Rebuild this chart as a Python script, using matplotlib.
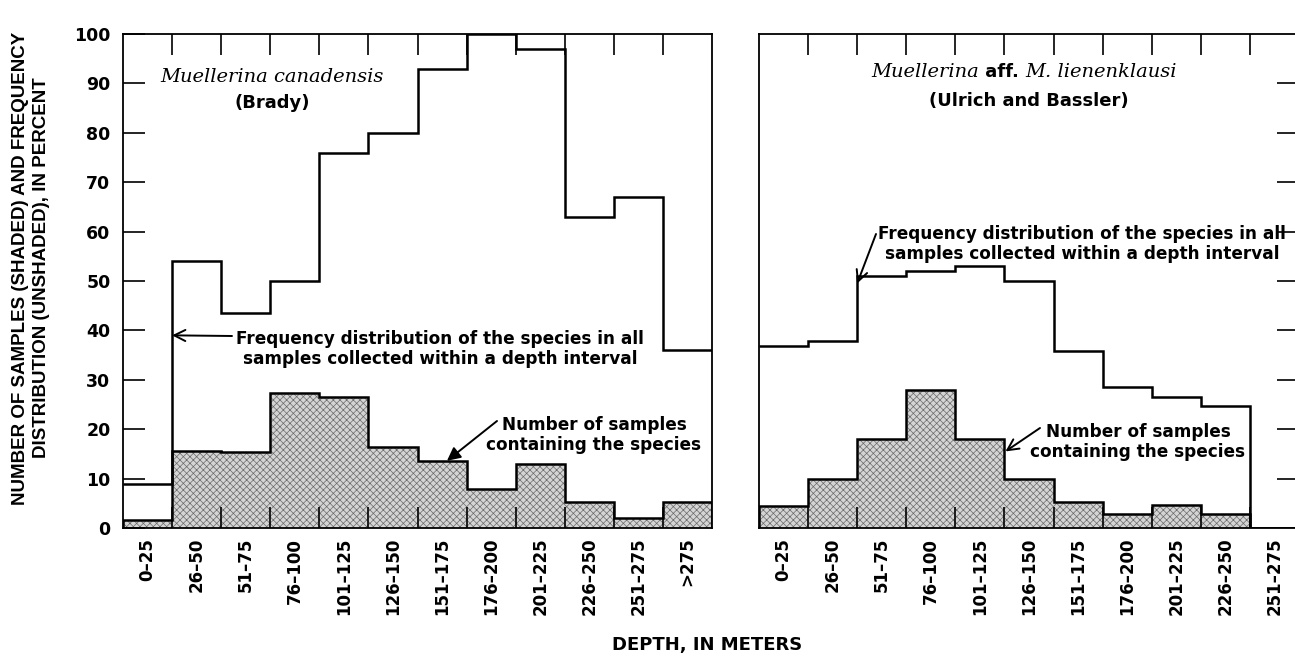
import matplotlib
matplotlib.use("Agg")
import matplotlib.pyplot as plt
import numpy as np

# ---------------- data ----------------
left_labels = ["0–25", "26–50", "51–75", "76–100", "101–125", "126–150",
               "151–175", "176–200", "201–225", "226–250", "251–275", ">275"]
left_freq = [9, 54, 43.5, 50, 76, 80, 93, 100, 97, 63, 67, 36]
left_samples = [1.7, 15.6, 15.3, 27.3, 26.5, 16.4, 13.6, 7.8, 13, 5.2, 2, 5.2]

right_labels = ["0–25", "26–50", "51–75", "76–100", "101–125", "126–150",
                "151–175", "176–200", "201–225", "226–250", "251–275"]
right_freq = [36.8, 37.8, 51, 52, 53, 50, 35.8, 28.6, 26.6, 24.6, 0]
right_samples = [4.5, 10, 18, 28, 18, 10, 5.2, 2.8, 4.7, 2.9, 0]

left_title = ("Muellerina canadensis", "(Brady)")
right_title = ("Muellerina", " aff. ", "M. lienenklausi", "(Ulrich and Bassler)")
freq_note = "Frequency distribution of the species in all\nsamples collected within a depth interval"
samp_note = "Number of samples\ncontaining the species"
ylabel = "NUMBER OF SAMPLES (SHADED) AND FREQUENCY\nDISTRIBUTION (UNSHADED), IN PERCENT"
xlabel = "DEPTH, IN METERS"

# ---------------- style ----------------
plt.rcParams['font.family'] = ['DejaVu Sans']
plt.rcParams['hatch.linewidth'] = 0.5

W, H = 1295, 661
fig = plt.figure(figsize=(W / 100, H / 100), dpi=100)

def fx(px):
    return px / W

def fy(py):
    return (H - py) / H

ax_top, ax_bot = 34, 528
axL = fig.add_axes([fx(123), fy(ax_bot), fx(712) - fx(123), fy(ax_top) - fy(ax_bot)])
axR = fig.add_axes([fx(759), fy(ax_bot), fx(1299) - fx(759), fy(ax_top) - fy(ax_bot)])

SHADE = '#d4d4d4'
LW = 1.8
tick_fs = 12

def draw_panel(ax, labels, freq, samples):
    n = len(labels)
    edges = np.arange(n + 1)
    ax.stairs(samples, edges, baseline=0, fill=True, facecolor=SHADE,
              edgecolor='#6a6a6a', linewidth=0, hatch='xxxxx', zorder=1)
    ax.stairs(samples, edges, baseline=0, fill=False, color='black',
              linewidth=LW, zorder=2)
    ax.stairs(freq, edges, baseline=None, color='black', linewidth=LW, zorder=3)
    ax.set_xlim(0, n)
    ax.set_ylim(0, 100)
    ax.set_xticks(edges[1:-1])
    ax.tick_params(axis='x', which='major', direction='in', length=15,
                   width=1.2, top=True, bottom=True, labelbottom=False,
                   labeltop=False)
    ax.set_xticks(edges[:-1] + 0.5, minor=True)
    ax.set_xticklabels(labels, minor=True, rotation=90, fontsize=tick_fs,
                       fontweight='bold')
    ax.tick_params(axis='x', which='minor', length=0, pad=7)
    for s in ax.spines.values():
        s.set_linewidth(1.3)

draw_panel(axL, left_labels, left_freq, left_samples)
draw_panel(axR, right_labels, right_freq, right_samples)

axL.set_yticks(np.arange(0, 101, 10))
axL.set_yticklabels([str(v) for v in range(0, 101, 10)], fontsize=tick_fs + 0.5,
                    fontweight='bold')
axL.tick_params(axis='y', direction='in', length=16, width=1.2, pad=9,
                left=True, right=False)

axR.set_yticks(np.arange(10, 100, 10))
axR.tick_params(axis='y', direction='in', length=16, width=1.2,
                left=False, right=True, labelleft=False, labelright=False)

# ---------------- titles ----------------
title_fs = 14
fig.text(fx(272), fy(77), left_title[0], family='DejaVu Serif',
         style='italic', fontsize=title_fs, ha='center', va='center')
fig.text(fx(272), fy(103), left_title[1], fontsize=13, fontweight='bold',
         ha='center', va='center')

renderer = fig.canvas.get_renderer()
parts = [
    fig.text(0, fy(72), right_title[0], family='DejaVu Serif', style='italic',
             fontsize=title_fs, ha='left', va='center'),
    fig.text(0, fy(72), right_title[1], fontsize=13, fontweight='bold',
             ha='left', va='center'),
    fig.text(0, fy(72), right_title[2], family='DejaVu Serif', style='italic',
             fontsize=title_fs, ha='left', va='center'),
]
widths = [p.get_window_extent(renderer).width for p in parts]
x0 = 1024 - sum(widths) / 2
for p, w in zip(parts, widths):
    p.set_x(fx(x0))
    x0 += w
fig.text(fx(1029), fy(101), right_title[3], fontsize=13, fontweight='bold',
         ha='center', va='center')

# ---------------- annotations ----------------
note_fs = 12.2
arrow_open = dict(arrowstyle='->', color='black', lw=1.4, shrinkA=0,
                  shrinkB=0, mutation_scale=20)
arrow_fill = dict(arrowstyle='-|>', color='black', lw=1.4, shrinkA=0,
                  shrinkB=0, mutation_scale=20)

# left panel
fig.text(fx(440), fy(349), freq_note, fontsize=note_fs, fontweight='bold',
         ha='center', va='center', linespacing=1.2, multialignment='center')
axL.annotate('', xy=(1, 39), xycoords='data',
             xytext=(fx(232), fy(336)), textcoords='figure fraction',
             arrowprops=arrow_open)
fig.text(fx(594), fy(435), samp_note, fontsize=note_fs, fontweight='bold',
         ha='center', va='center', linespacing=1.2, multialignment='center')
axL.annotate('', xy=(6.6, 13.6), xycoords='data',
             xytext=(fx(497), fy(421)), textcoords='figure fraction',
             arrowprops=arrow_fill)

# right panel
fig.text(fx(1082), fy(244), freq_note, fontsize=note_fs, fontweight='bold',
         ha='center', va='center', linespacing=1.2, multialignment='center')
axR.annotate('', xy=(2.0, 49.5), xycoords='data',
             xytext=(fx(876), fy(234)), textcoords='figure fraction',
             arrowprops=arrow_open)
fig.text(fx(1138), fy(442), samp_note, fontsize=note_fs, fontweight='bold',
         ha='center', va='center', linespacing=1.2, multialignment='center')
axR.annotate('', xy=(5.02, 15.5), xycoords='data',
             xytext=(fx(1040), fy(428)), textcoords='figure fraction',
             arrowprops=arrow_open)

# ---------------- axis labels ----------------
fig.text(fx(31), fy(268), ylabel, rotation=90, fontsize=13.5,
         family=['Liberation Sans', 'DejaVu Sans'], fontweight='bold',
         ha='center', va='center', linespacing=1.3, multialignment='center')
fig.text(fx(707), fy(645), xlabel, fontsize=13, fontweight='bold',
         ha='center', va='center')

fig.savefig("out.png", dpi=100)
